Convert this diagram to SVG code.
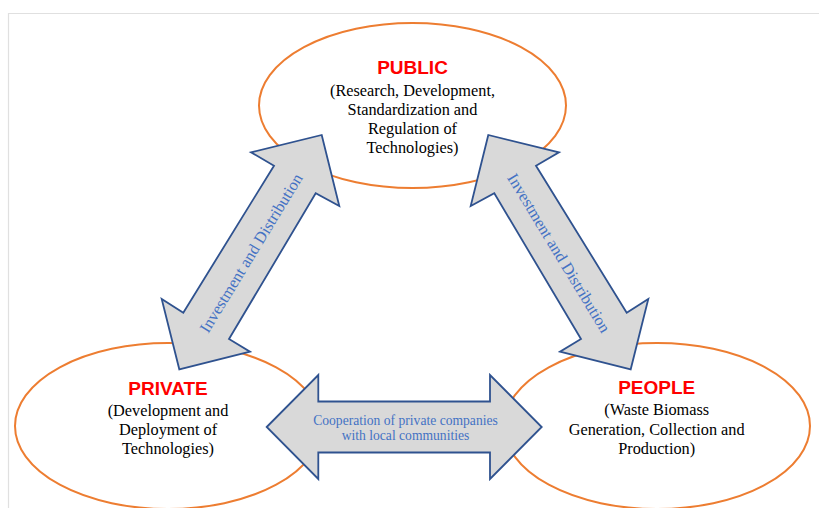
<svg xmlns="http://www.w3.org/2000/svg" width="819" height="508" viewBox="0 0 819 508">
<style>
.ell{fill:#fff;stroke:#ED7D31;stroke-width:2}
.arr{fill:#D9D9D9;stroke:#2F528F;stroke-width:1.8;stroke-linejoin:miter}
.title{font-family:"Liberation Sans",Arial,sans-serif;font-weight:bold;font-size:19px;fill:#FF0000;text-anchor:middle}
.body{font-family:"Liberation Serif","Times New Roman",serif;font-size:16.3px;fill:#000;text-anchor:middle}
.alab{font-family:"Liberation Serif","Times New Roman",serif;fill:#4472C4;text-anchor:middle}
</style>
<rect width="819" height="508" fill="#fff"/>
<path d="M8.5,508 V13.5 H819" fill="none" stroke="#E0E0E0" stroke-width="1.2"/>
<g id="public">
<ellipse class="ell" cx="412.5" cy="105.5" rx="153.5" ry="82.5"/>
<text class="title" x="412.5" y="73.5">PUBLIC</text>
<text class="body" x="412.5" y="95.8">(Research, Development,</text>
<text class="body" x="412.5" y="115">Standardization and</text>
<text class="body" x="412.5" y="134.2">Regulation of</text>
<text class="body" x="412.5" y="153.4">Technologies)</text>
</g>
<g id="private">
<ellipse class="ell" cx="168" cy="426" rx="153" ry="83"/>
<text class="title" x="168" y="394.5">PRIVATE</text>
<text class="body" x="168" y="415.8">(Development and</text>
<text class="body" x="168" y="435">Deployment of</text>
<text class="body" x="168" y="454.2">Technologies)</text>
</g>
<g id="people">
<ellipse class="ell" cx="657" cy="426" rx="153" ry="83"/>
<text class="title" x="656.7" y="394">PEOPLE</text>
<text class="body" x="656.7" y="415.3">(Waste Biomass</text>
<text class="body" x="656.7" y="434.5">Generation, Collection and</text>
<text class="body" x="656.7" y="453.7">Production)</text>
</g>
<g id="connectors">
<g id="arrow-public-private">
<polygon class="arr" points="321.7,135 339.3,206 315.7,193.3 229,339 250,351.7 179.3,369.3 161.7,299 183.3,312.7 274,165.7 251,152.3"/>
<text class="alab" font-size="16.3" transform="translate(251,253) rotate(-58.7)" x="0" y="5.5">Investment and Distribution</text>
</g>
<g id="arrow-public-people">
<polygon class="arr" points="488.3,135 470.7,206 494.3,193.3 581,339 560,351.7 630.7,369.3 648.3,299 626.7,312.7 536,165.7 559,152.3"/>
<text class="alab" font-size="16.3" transform="translate(559,253) rotate(58.7)" x="0" y="5.5">Investment and Distribution</text>
</g>
<g id="arrow-private-people">
<polygon class="arr" points="266.7,427 318.3,375 318.3,401.5 490,401.5 490,375 541.7,427 490,479 490,452.5 318.3,452.5 318.3,479"/>
<text class="alab" font-size="13.6" x="405.5" y="425">Cooperation of private companies</text>
<text class="alab" font-size="13.6" x="405.5" y="439.5">with local communities</text>
</g>
</g>
</svg>
